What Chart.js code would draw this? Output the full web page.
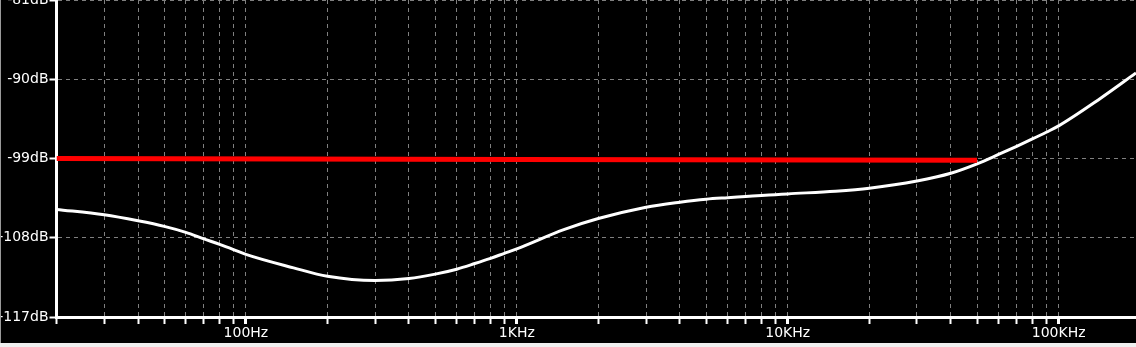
<!DOCTYPE html>
<html>
<head>
<meta charset="utf-8">
<script src="https://cdn.jsdelivr.net/npm/chart.js@4"></script>
<style>
  html, body { margin: 0; padding: 0; background: #f0f0f0; }
  #wrap { position: absolute; left: 0; top: 0; width: 1136px; height: 343px; background: #000; }
  #edge { position: absolute; left: 0; top: 0; width: 1px; height: 343px; background: #9a9a9a; }
</style>
</head>
<body>
<div id="wrap"><canvas id="plot" width="1136" height="343"></canvas></div>
<div id="edge"></div>
<script>
// ── Data (frequency in Hz, level in dB) ─────────────────────────
const freqs = [20, 30, 40, 50, 60, 70, 80, 90, 100, 150, 200, 300, 400, 500, 600, 700, 800, 900,
  1000, 1500, 2000, 3000, 4000, 5000, 6000, 7000, 8000, 9000, 10000, 15000, 20000, 30000, 40000,
  50000, 60000, 70000, 80000, 90000, 100000, 140000, 193000];
const noiseDb = [-104.78, -105.40, -106.08, -106.71, -107.39, -108.13, -108.75, -109.34, -109.89,
  -111.42, -112.38, -112.86, -112.63, -112.13, -111.57, -110.93, -110.34, -109.77,
  -109.26, -107.05, -105.82, -104.53, -103.96, -103.62, -103.45, -103.32, -103.20, -103.11, -103.02,
  -102.71, -102.37, -101.55, -100.67, -99.60, -98.54, -97.61, -96.78, -96.02, -95.30, -92.35, -89.29];

const refFreqs = [20, 1000, 50000];
const refDb = [-99.0, -99.1, -99.2];

const xMajorTicks = [100, 1000, 10000, 100000];
const xMajorLabels = ['100Hz', '1KHz', '10KHz', '100KHz'];
const yTicks = [-117, -108, -99, -90, -81];
const yLabels = ['-117dB', '-108dB', '-99dB', '-90dB', '-81dB'];

const X_MIN = 20, X_MAX = 193000;

// decade grid: 1..9 x 10^n inside the range
function decadeTicks() {
  const out = [];
  for (let e = 1; e <= 5; e++) {
    for (let m = 1; m <= 9; m++) {
      const v = m * Math.pow(10, e);
      if (v >= X_MIN && v <= 100000) out.push({ value: v });
    }
  }
  return out;
}

const GRID = '#808080';
const FONT = { family: '"DejaVu Sans", sans-serif', size: 14 };

const blackBg = {
  id: 'blackBg',
  beforeDraw(chart) {
    const c = chart.ctx;
    c.save();
    c.fillStyle = '#000';
    c.fillRect(0, 0, chart.width, chart.height);
    c.restore();
  }
};

new Chart(document.getElementById('plot'), {
  type: 'line',
  data: {
    datasets: [
      {
        label: 'ref',
        data: refFreqs.map((f, i) => ({ x: f, y: refDb[i] })),
        borderColor: '#ff0000',
        borderWidth: 5,
        pointRadius: 0,
        tension: 0,
        order: 0,
      },
      {
        label: 'noise',
        data: freqs.map((f, i) => ({ x: f, y: noiseDb[i] })),
        borderColor: '#ffffff',
        borderWidth: 3,
        pointRadius: 0,
        cubicInterpolationMode: 'monotone',
        order: 1,
      },
    ],
  },
  options: {
    responsive: false,
    animation: false,
    devicePixelRatio: 1,
    layout: { padding: 0 },
    plugins: { legend: { display: false }, tooltip: { enabled: false } },
    scales: {
      x: {
        type: 'logarithmic',
        min: X_MIN, max: X_MAX,
        afterBuildTicks: s => { s.ticks = decadeTicks(); },
        afterFit: s => { s.height = 26; s.paddingLeft = 0; s.paddingRight = 0; },
        grid: {
          color: GRID, lineWidth: 1,
          tickColor: '#ffffff', tickLength: 7,
          tickWidth: ctx => xMajorTicks.includes(ctx.tick && ctx.tick.value) ? 3 : 2,
        },
        border: { display: true, color: '#ffffff', width: 3, dash: [4, 4] },
        ticks: {
          color: '#ffffff', font: FONT, padding: 1,
          autoSkip: false, maxRotation: 0,
          callback: v => { const i = xMajorTicks.indexOf(v); return i >= 0 ? xMajorLabels[i] : ''; },
        },
      },
      y: {
        type: 'linear',
        min: -117, max: -81,
        afterBuildTicks: s => { s.ticks = yTicks.map(v => ({ value: v })); },
        afterFit: s => { s.width = 56.5; s.paddingTop = 0; s.paddingBottom = 0; },
        grid: { color: GRID, lineWidth: 1, tickColor: '#ffffff', tickLength: 7, tickWidth: 2 },
        border: { display: true, color: '#ffffff', width: 3, dash: [4, 4] },
        ticks: {
          color: '#ffffff', font: FONT, padding: 1,
          callback: v => { const i = yTicks.indexOf(v); return i >= 0 ? yLabels[i] : ''; },
        },
      },
    },
  },
  plugins: [blackBg],
});
</script>
</body>
</html>
